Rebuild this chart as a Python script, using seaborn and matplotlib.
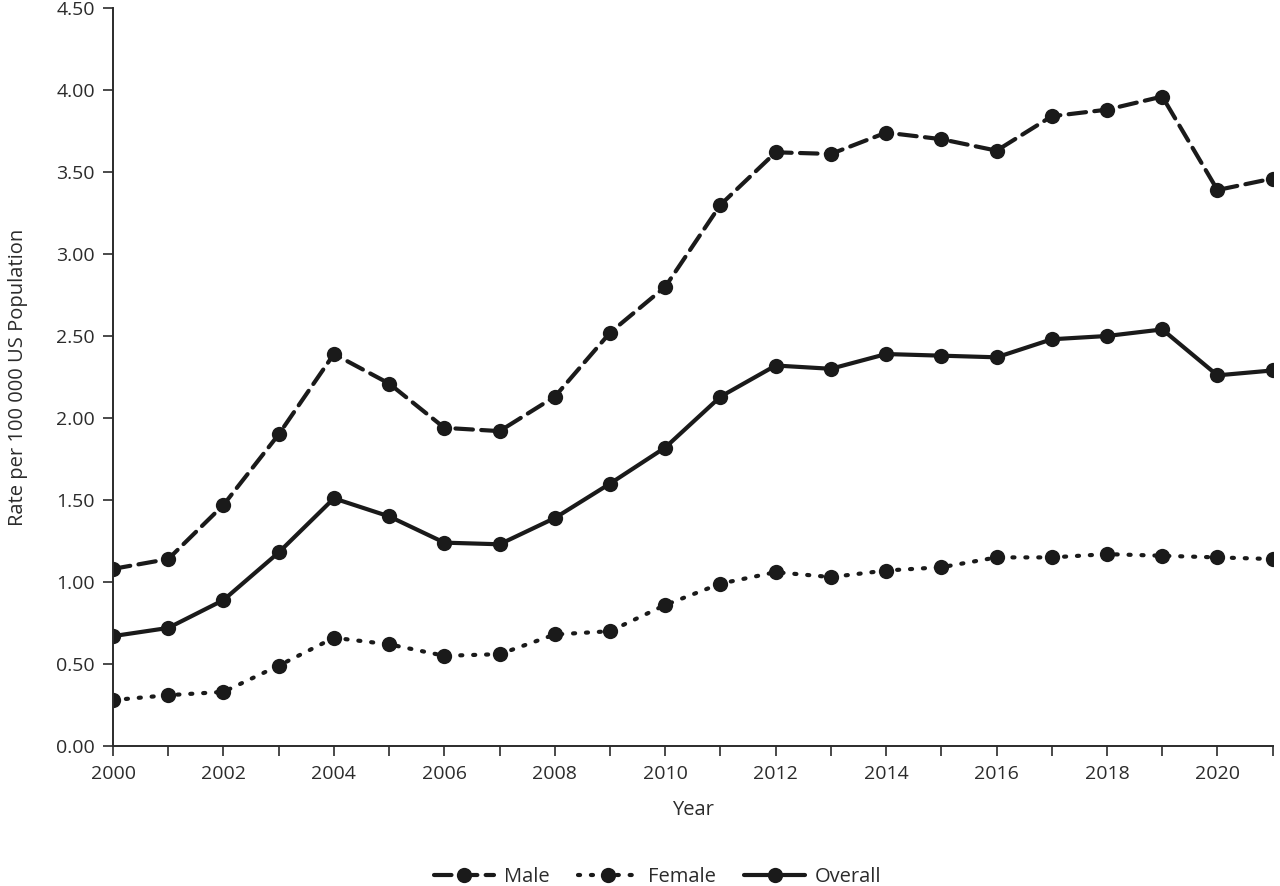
import matplotlib
matplotlib.use("Agg")
import matplotlib.pyplot as plt
import seaborn as sns
import pandas as pd
from matplotlib.ticker import FormatStrFormatter, MultipleLocator

years = list(range(2000, 2022))
male = [1.08, 1.14, 1.47, 1.90, 2.39, 2.21, 1.94, 1.92, 2.13, 2.52, 2.80,
        3.30, 3.62, 3.61, 3.74, 3.70, 3.63, 3.84, 3.88, 3.96, 3.39, 3.46]
female = [0.28, 0.31, 0.33, 0.49, 0.66, 0.62, 0.55, 0.56, 0.68, 0.70, 0.86,
          0.99, 1.06, 1.03, 1.07, 1.09, 1.15, 1.15, 1.17, 1.16, 1.15, 1.14]
overall = [0.67, 0.72, 0.89, 1.18, 1.51, 1.40, 1.24, 1.23, 1.39, 1.60, 1.82,
           2.13, 2.32, 2.30, 2.39, 2.38, 2.37, 2.48, 2.50, 2.54, 2.26, 2.29]
series_names = ["Male", "Female", "Overall"]

df = pd.concat([
    pd.DataFrame({"Year": years, "Rate": male, "Series": "Male"}),
    pd.DataFrame({"Year": years, "Rate": female, "Series": "Female"}),
    pd.DataFrame({"Year": years, "Rate": overall, "Series": "Overall"}),
])

sns.set_theme(style="ticks")
plt.rcParams["font.family"] = ["Open Sans", "DejaVu Sans"]
text_color = "#2b2b2b"

fig = plt.figure(figsize=(12.8, 8.86), dpi=100)
ax = fig.add_axes([0.0883, 0.158, 0.906, 0.833])

sns.lineplot(
    data=df, x="Year", y="Rate", hue="Series", style="Series",
    hue_order=series_names, style_order=series_names,
    palette={"Male": "#1a1a1a", "Female": "#1a1a1a", "Overall": "#1a1a1a"},
    dashes={"Male": (4.2, 2), "Female": (0.5, 2.6), "Overall": ""},
    markers={"Male": "o", "Female": "o", "Overall": "o"},
    markersize=11, linewidth=3, markeredgewidth=0,
    ax=ax, legend=True,
)
for line in ax.lines:
    line.set_dash_capstyle("round")

ax.set_xlim(2000, 2021)
ax.set_ylim(0, 4.5)
ax.xaxis.set_major_locator(MultipleLocator(2))
ax.xaxis.set_minor_locator(MultipleLocator(1))
ax.yaxis.set_major_locator(MultipleLocator(0.5))
ax.yaxis.set_major_formatter(FormatStrFormatter("%.2f"))
ax.tick_params(axis="both", which="major", labelsize=14, colors=text_color,
               length=7, width=1.2, direction="out")
ax.tick_params(axis="x", which="minor", length=7, width=1.2, colors=text_color,
               direction="out")
ax.tick_params(axis="x", which="major", pad=7)
ax.tick_params(axis="y", which="major", pad=6)

sns.despine(ax=ax)
for side in ("left", "bottom"):
    ax.spines[side].set_linewidth(1.4)
    ax.spines[side].set_color(text_color)

ax.set_xlabel("Year", fontsize=14.5, color=text_color, labelpad=12)
ax.set_ylabel("Rate per 100 000 US Population", fontsize=14.5, color=text_color, labelpad=20)

handles, labels = ax.get_legend_handles_labels()
ax.get_legend().remove()
fig.legend(handles, labels, loc="lower center", ncol=3, frameon=False,
           fontsize=14.5, bbox_to_anchor=(0.5137, -0.022), handlelength=3.0,
           handletextpad=0.5, columnspacing=1.4, labelcolor=text_color)

fig.savefig("out.png", dpi=100)
